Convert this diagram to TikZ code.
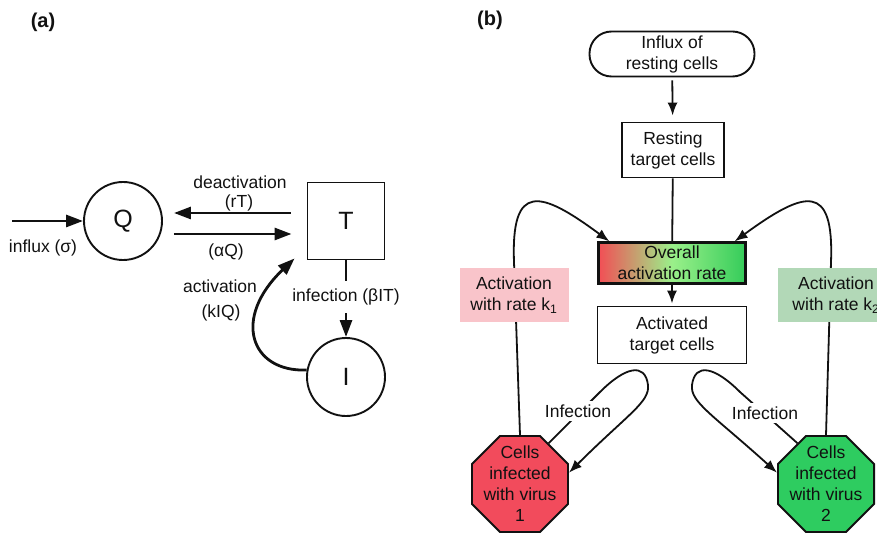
\documentclass[tikz,border=0pt]{standalone}
\usepackage{fontspec}
\setmainfont{Liberation Sans}
\usetikzlibrary{arrows.meta,backgrounds,shapes.geometric}
\definecolor{ink}{HTML}{111111}
\definecolor{ratefillone}{HTML}{F9C4CA}
\definecolor{ratefilltwo}{HTML}{B2D8B7}
\definecolor{virusred}{HTML}{F24B5C}
\definecolor{virusgreen}{HTML}{2ECC60}
\definecolor{gradred}{HTML}{F24E55}
\definecolor{gradmid}{HTML}{9AF08A}
\definecolor{gradgreen}{HTML}{35CC5A}

\begin{document}
\begin{tikzpicture}[
  x=1pt, y=-1pt,
  font=\fontsize{17.5}{21}\selectfont,
  text=ink,
  panel/.style={font=\fontsize{20}{24}\selectfont\bfseries},
  pool/.style={
    draw=ink,
    line width=1.9pt,
    circle,
    minimum size=78pt,
    inner sep=0pt,
    font=\fontsize{25}{30}\selectfont
  },
  poolbox/.style={pool, rectangle, minimum size=77pt},
  flux/.style={-{Triangle[length=17pt,width=12pt]}, line width=2.8pt, draw=ink},
  tag/.style={align=center, inner sep=1pt},
  box/.style={
    draw=ink,
    line width=1.9pt,
    align=center,
    inner sep=0pt
  },
  ratebox/.style={fill=#1, align=center, minimum width=109pt, minimum height=54pt, inner sep=0pt},
  virus/.style={
    draw=ink,
    line width=1.9pt,
    regular polygon,
    regular polygon sides=8,
    minimum size=104pt,
    inner sep=0pt,
    fill=#1
  },
  link/.style={line width=1.8pt, draw=ink},
  arrow/.style={link, -{Latex[length=13pt,width=10pt]}}
]
\useasboundingbox (0,0) rectangle (877,534);

% Panel (a): compartment model
\node[panel] (panela) at (43,22) {(a)};
\node[pool] (qcell) at (123,221) {Q};
\node[poolbox] (tcell) at (346,221) {T};
\node[pool] (icell) at (346,377) {I};
\coordinate (influxstart) at (12,221);

\node[tag] (influxlab) at (43,248) {influx (σ)};
\node[tag] (deact) at (240,182) {deactivation};
\node[tag] (deactrate) at (239,203) {(rT)};
\node[tag] (actrate) at (226,252) {(αQ)};
\node[tag] (act) at (220,286) {activation};
\node[tag] (actk) at (221,313) {(kIQ)};
\node[tag, inner ysep=8pt] (infect) at (346,297) {infection (βIT)};

\draw[flux] (influxstart) -- (qcell.west);
\draw[flux] ([shift={(-16pt,8pt)}]tcell.west) -- ([shift={(11pt,8pt)}]qcell.east);
\draw[flux] ([shift={(11pt,-13pt)}]qcell.east) -- ([shift={(-15pt,-13pt)}]tcell.west);
\draw[line width=2.8pt, draw=ink] (tcell.south) -- (infect.north);
\draw[flux] (infect.south) -- (icell.north);
\draw[flux] (icell.170) .. controls (250,372) and (232,318) .. ([shift={(-12pt,2pt)}]tcell.south west);

% Panel (b): two-virus activation flow
\node[panel] (panelb) at (490,20) {(b)};
\node[box, rounded corners=22pt, minimum width=165pt, minimum height=45pt] (influx) at (672,54) {Influx of\\resting cells};
\node[box, minimum width=102pt, minimum height=55pt] (resting) at (673,150) {Resting\\target cells};
\node[box, line width=2.2pt, minimum width=147pt, minimum height=41pt,
  left color=gradred, right color=gradgreen, middle color=gradmid] (overall) at (672,263) {Overall\\activation rate};
\node[box, minimum width=149pt, minimum height=57pt] (activated) at (672,335) {Activated\\target cells};
\node[ratebox=ratefillone] (rateone) at (514,295) {Activation\\with rate k\textsubscript{1}};
\node[ratebox=ratefilltwo, minimum width=116pt] (ratetwo) at (836,295) {Activation\\with rate k\textsubscript{2}};
\node[virus=virusred, label={[align=center]center:{Cells\\infected\\with virus\\1}}] (virusone) at (520,484) {};
\node[virus=virusgreen, label={[align=center]center:{Cells\\infected\\with virus\\2}}] (virustwo) at (826,484) {};

\draw[arrow, shorten <=3pt, shorten >=6pt] (influx) -- (resting);
\draw[link] (resting) -- (overall);
\draw[arrow, shorten >=2pt] (overall) -- (activated);

% Activation feedback from infected cells
\begin{scope}[on background layer]
  \draw[arrow] (virusone.north) -- (514,262) .. controls (511,182) and (540,190) .. ([xshift=12pt]overall.north west);
  \draw[arrow] (virustwo.north) -- (831,262) .. controls (834,182) and (805,190) .. ([xshift=-12pt]overall.north east);
\end{scope}

% Infection loops
\draw[arrow] (virusone.55) -- (600,392) .. controls (625,367) and (645,362) .. (648,385) .. controls (650,402) and (628,414) .. (virusone.13);
\draw[arrow] (virustwo.125) -- (740,392) .. controls (715,367) and (695,362) .. (692,385) .. controls (690,402) and (712,414) .. (virustwo.167);
\node[tag, fill=white, inner ysep=4pt] (infectone) at (578,411) {Infection};
\node[tag, fill=white, inner ysep=4pt] (infecttwo) at (765,413) {Infection};

\end{tikzpicture}
\end{document}
